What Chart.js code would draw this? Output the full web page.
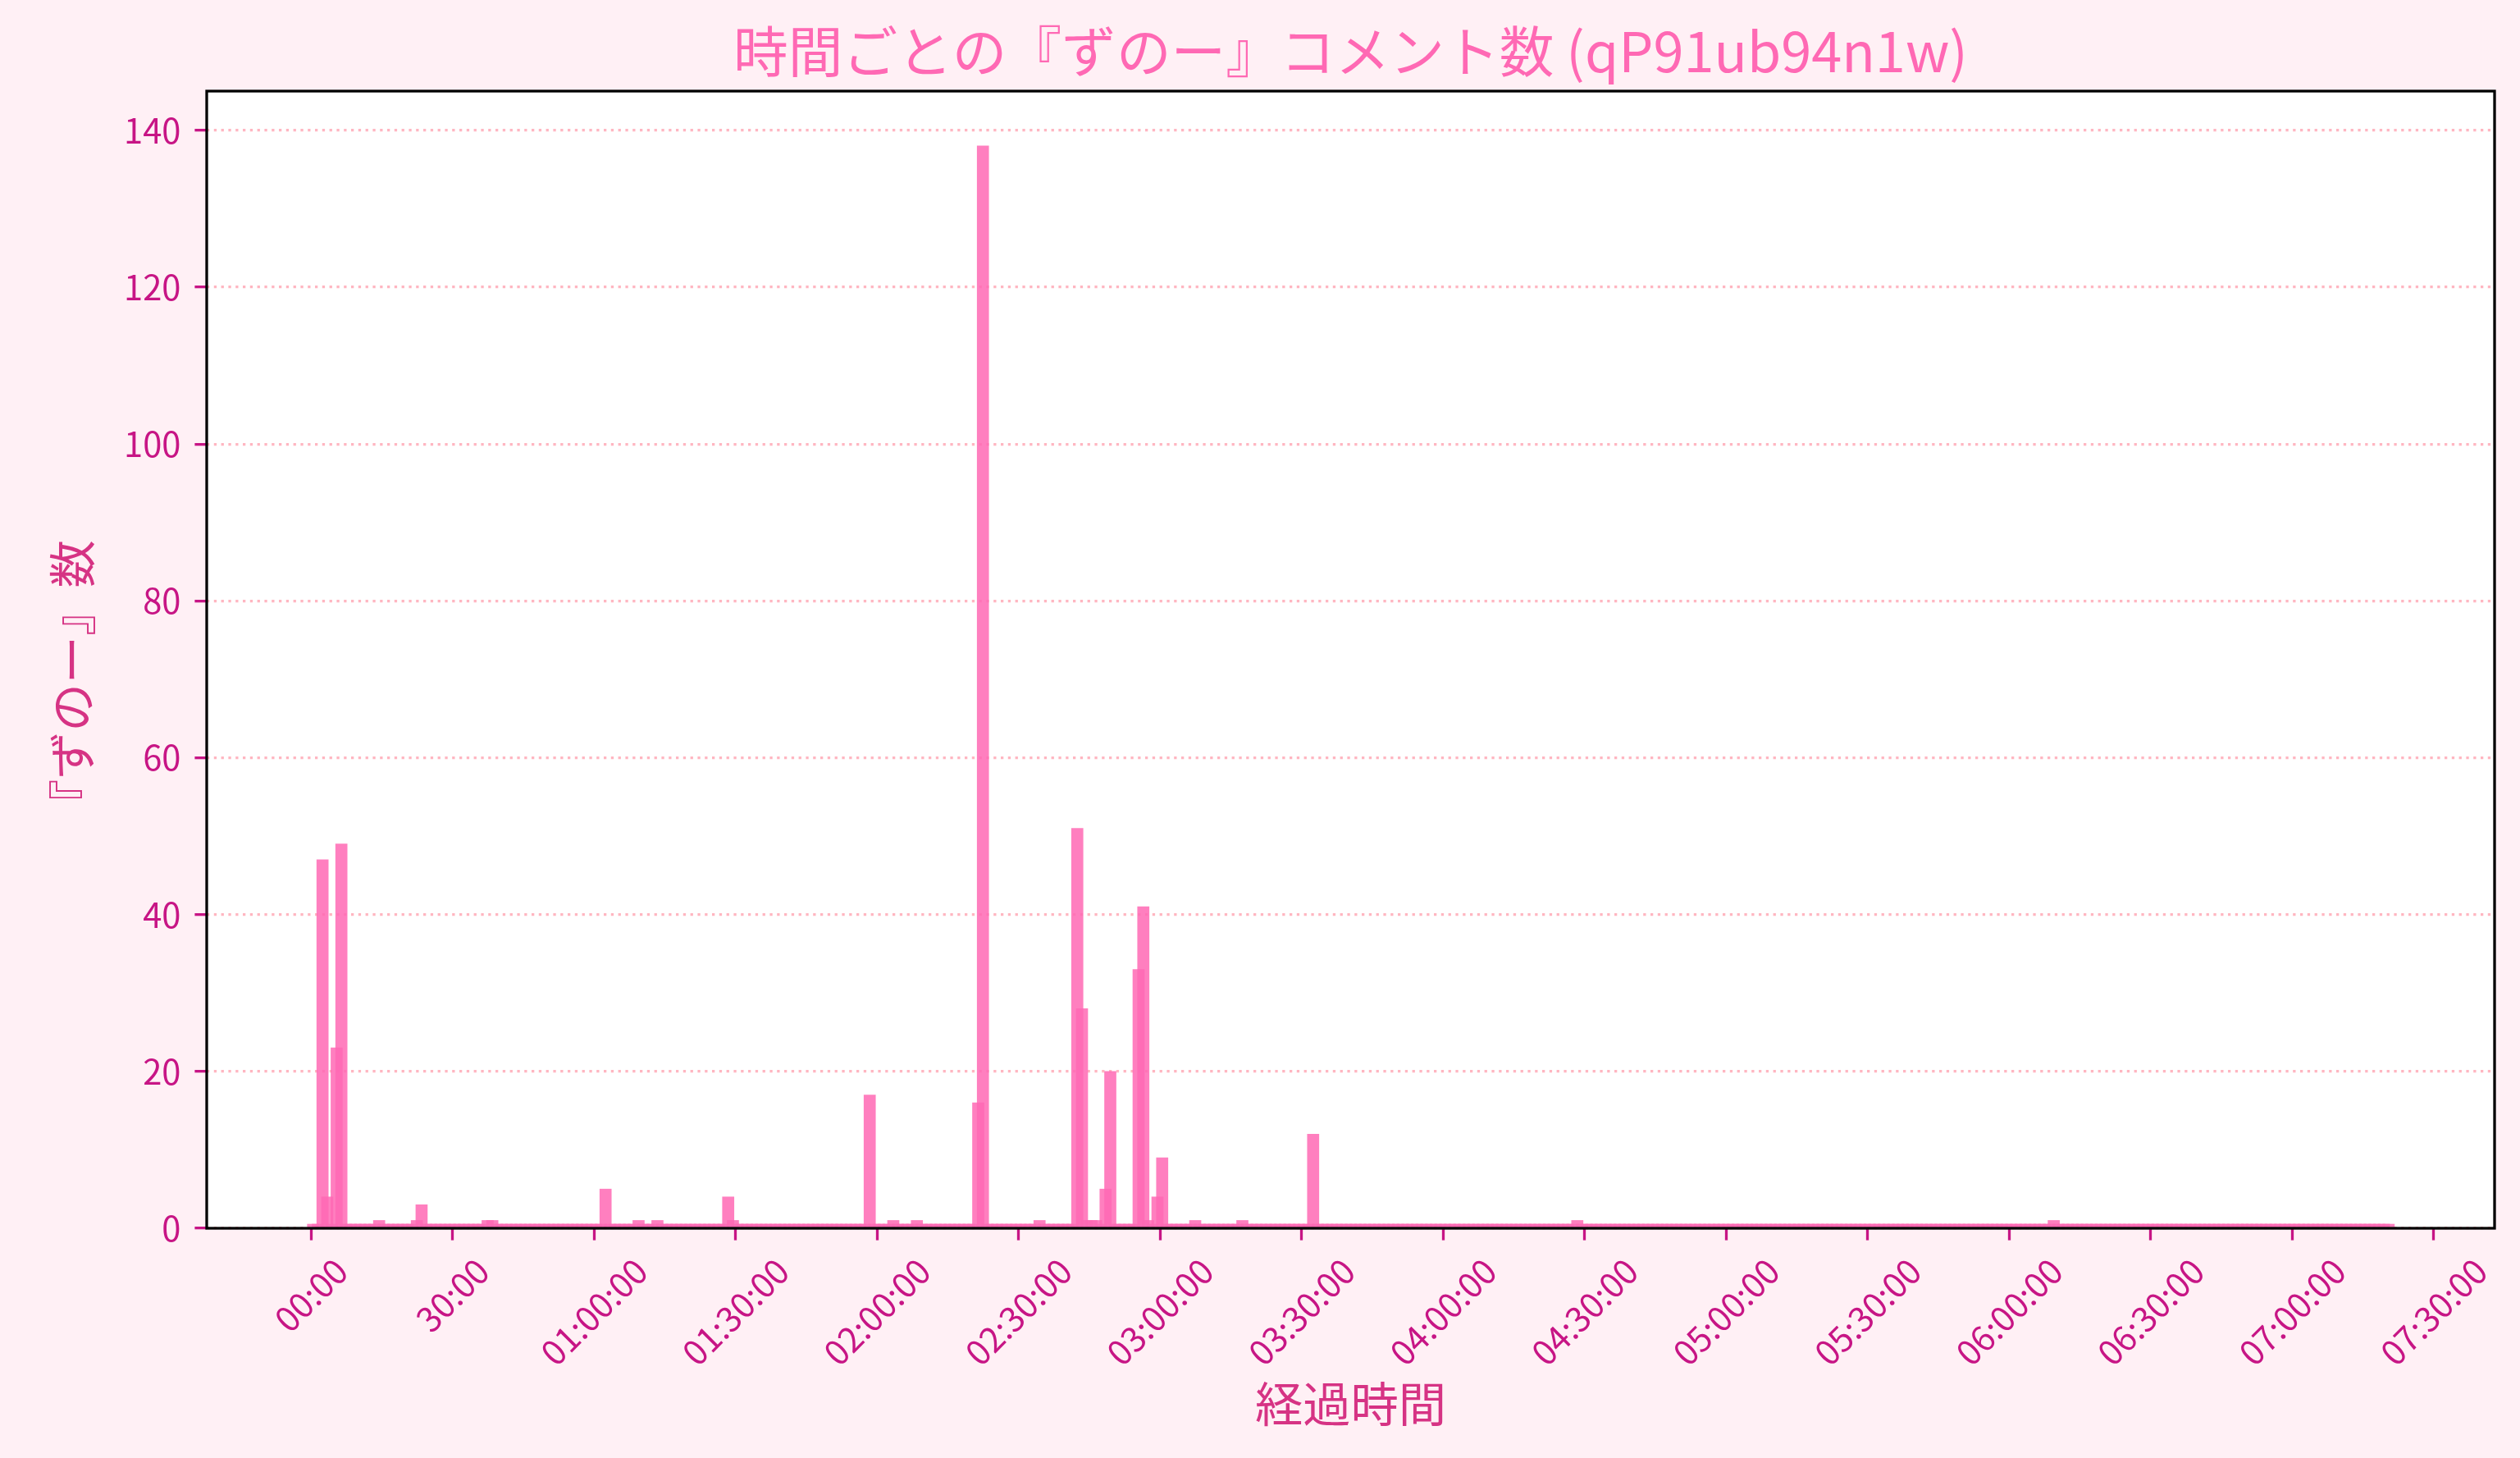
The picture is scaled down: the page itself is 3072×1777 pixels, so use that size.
<!DOCTYPE html>
<html lang="ja">
<head>
<meta charset="utf-8">
<title>時間ごとの『ずのー』コメント数</title>
<script src="https://cdn.jsdelivr.net/npm/chart.js@4.4.1/dist/chart.umd.min.js"></script>
<style>
    html, body { margin: 0; padding: 0; background: #FFF0F5; }
    canvas { display: block; }
</style>
</head>
<body>
<canvas id="zunoChart" width="3072" height="1777"></canvas>
<script>
'use strict';

// ===== DONNÉES =====
// minutes écoulées où il y a des commentaires, et leur nombre
const peakMinutes = [2, 3, 5, 6, 14, 22, 23, 37, 38, 62, 69, 73, 88, 89, 118, 123, 128,
    141, 142, 154, 162, 163, 164, 165, 166, 168, 169, 175, 176, 177, 179, 180, 187, 197, 212, 268, 369];
const peakCounts = [47, 4, 23, 49, 1, 1, 3, 1, 1, 5, 1, 1, 4, 1, 17, 1, 1,
    16, 138, 1, 51, 28, 1, 1, 1, 5, 20, 33, 41, 1, 4, 9, 1, 1, 12, 1, 1];
const lastMinute = 440;      // dernier bin (les autres minutes = 0)
const binOffset = 0.45;      // décalage du début des bins (min)

const tickMinutes = [0, 30, 60, 90, 120, 150, 180, 210, 240, 270, 300, 330, 360, 390, 420, 450];
const tickLabels = ['00:00', '30:00', '01:00:00', '01:30:00', '02:00:00', '02:30:00', '03:00:00',
    '03:30:00', '04:00:00', '04:30:00', '05:00:00', '05:30:00', '06:00:00', '06:30:00', '07:00:00', '07:30:00'];
const yTicks = [0, 20, 40, 60, 80, 100, 120, 140];

const titleText = '時間ごとの『ずのー』コメント数 (qP91ub94n1w)';
const xTitle = '経過時間';
const yTitle = '『ずのー』数\u3000';   // espace final : recentre le texte comme matplotlib

// ===== STYLE =====
const FONT = '"Noto Sans CJK JP", "Noto Sans", sans-serif';
const TICK_COLOR = '#C71585';
const LABEL_COLOR = '#D63384';
const TITLE_COLOR = '#FF69B4';
const BAR_COLOR = 'rgba(255, 105, 180, 0.85)';

document.addEventListener('DOMContentLoaded', function() {

    // série complète minute par minute
    const countByMinute = {};
    peakMinutes.forEach(function(m, i) { countByMinute[m] = peakCounts[i]; });
    const points = [];
    for (let m = 0; m <= lastMinute; m++) {
        points.push({ x: m + binOffset, y: countByMinute[m] || 0 });
    }

    // ===== FOND (figure + zone du graphe) =====
    const backgroundPlugin = {
        id: 'background',
        beforeDraw: function(chart) {
            const ctx = chart.ctx;
            const a = chart.chartArea;
            ctx.save();
            ctx.fillStyle = '#FFF0F5';
            ctx.fillRect(0, 0, chart.width, chart.height);
            ctx.fillStyle = '#FFFFFF';
            ctx.fillRect(a.left, a.top, a.right - a.left, a.bottom - a.top);
            ctx.restore();
        }
    };

    // ===== CADRE NOIR =====
    const framePlugin = {
        id: 'frame',
        afterDatasetsDraw: function(chart) {
            const ctx = chart.ctx;
            const a = chart.chartArea;
            ctx.save();
            ctx.strokeStyle = '#000000';
            ctx.lineWidth = 3.3;
            ctx.strokeRect(a.left, a.top, a.right - a.left, a.bottom - a.top);
            ctx.restore();
        }
    };

    // ===== LABELS X TOURNÉS (centrés sous le tick) =====
    const xLabelPlugin = {
        id: 'xLabels',
        afterDraw: function(chart) {
            const ctx = chart.ctx;
            const xs = chart.scales.x;
            const top = chart.chartArea.bottom + 34;
            ctx.save();
            ctx.font = '41.7px ' + FONT;
            ctx.fillStyle = TICK_COLOR;
            ctx.textAlign = 'center';
            ctx.textBaseline = 'middle';
            tickMinutes.forEach(function(v, i) {
                const text = tickLabels[i];
                const w = ctx.measureText(text).width;
                const half = (w + 30) * Math.SQRT1_2 / 2;
                ctx.save();
                ctx.translate(xs.getPixelForValue(v), top + half);
                ctx.rotate(-Math.PI / 4);
                ctx.fillText(text, 0, 0);
                ctx.restore();
            });
            ctx.restore();
        }
    };

    const canvas = document.getElementById('zunoChart');
    new Chart(canvas, {
        type: 'bar',
        data: {
            datasets: [{
                data: points,
                backgroundColor: BAR_COLOR,
                borderWidth: 0,
                barThickness: 14,
                minBarLength: 5
            }]
        },
        options: {
            responsive: false,
            devicePixelRatio: 1,
            animation: false,
            layout: { padding: { left: 0, right: 31, top: 0, bottom: 0 } },
            plugins: {
                legend: { display: false },
                tooltip: { enabled: false },
                title: {
                    display: true,
                    text: titleText,
                    fullSize: false,
                    color: TITLE_COLOR,
                    font: { family: FONT, size: 66.7, weight: 'normal' },
                    padding: { top: 23, bottom: 8 }
                }
            },
            scales: {
                x: {
                    type: 'linear',
                    min: -22.1,
                    max: 462.9,
                    offset: false,
                    afterBuildTicks: function(scale) {
                        scale.ticks = tickMinutes.map(function(v) { return { value: v }; });
                    },
                    afterFit: function(scale) { scale.height = 280; },
                    ticks: { display: false },
                    grid: {
                        display: true,
                        offset: false,
                        drawOnChartArea: false,
                        drawTicks: true,
                        tickLength: 14.6,
                        tickWidth: 3.3,
                        tickColor: TICK_COLOR
                    },
                    border: { display: false },
                    title: {
                        display: true,
                        text: xTitle,
                        color: LABEL_COLOR,
                        font: { family: FONT, size: 58.3, weight: 'normal' },
                        padding: { top: 0, bottom: 31 }
                    }
                },
                y: {
                    min: 0,
                    max: 145,
                    afterBuildTicks: function(scale) {
                        scale.ticks = yTicks.map(function(v) { return { value: v }; });
                    },
                    afterFit: function(scale) { scale.width = 252; },
                    ticks: {
                        color: TICK_COLOR,
                        font: { family: FONT, size: 41.7 },
                        padding: 17
                    },
                    grid: {
                        color: '#FFB6C1',
                        lineWidth: 3.3,
                        tickBorderDash: [],
                        tickLength: 14.6,
                        tickWidth: 3.3,
                        tickColor: TICK_COLOR
                    },
                    border: { display: false, dash: [3.3, 5.5] },
                    title: {
                        display: true,
                        text: yTitle,
                        color: LABEL_COLOR,
                        font: { family: FONT, size: 58.3, weight: 'normal' },
                        padding: { top: 53, bottom: 0 }
                    }
                }
            }
        },
        plugins: [backgroundPlugin, framePlugin, xLabelPlugin]
    });
});
</script>
</body>
</html>
